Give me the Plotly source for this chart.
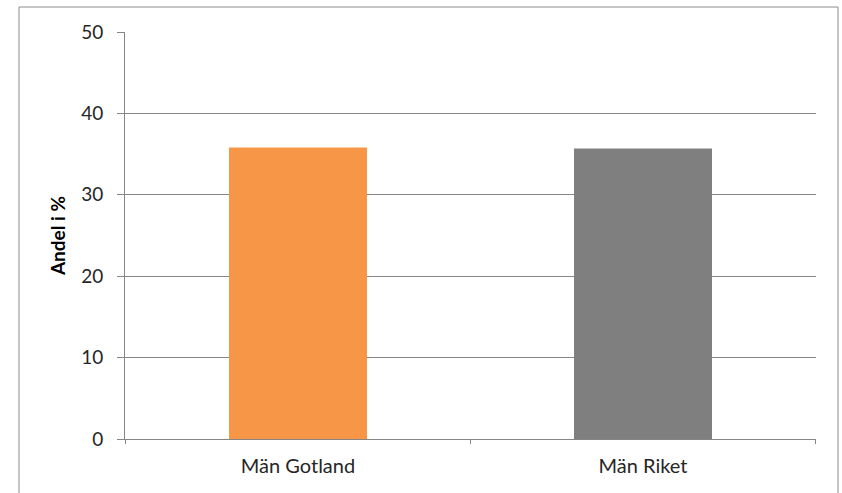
import plotly.graph_objects as go

categories = ["Män Gotland", "Män Riket"]
values = [35.8, 35.7]
colors = ["#F79646", "#7F7F7F"]
y_ticks = [0, 10, 20, 30, 40, 50]

W, H = 842, 493
ml, mr, mt, mb = 125, 26, 32, 54
pw = W - ml - mr
ph = H - mt - mb

def px_to_paper_x(px):
    return (px - ml) / pw

def px_to_paper_y(py):
    return (H - mb - py) / ph

fig = go.Figure()
fig.add_trace(go.Bar(
    x=categories, y=values,
    marker=dict(color=colors, line=dict(width=0)),
    width=0.4,
    showlegend=False,
))

font_family = "Lato, 'Open Sans', sans-serif"
fig.update_layout(
    width=W, height=H,
    margin=dict(l=ml, r=mr, t=mt, b=mb, pad=0),
    paper_bgcolor="white", plot_bgcolor="white",
    font=dict(family=font_family, size=19, color="#262626"),
    xaxis=dict(
        showline=True, linecolor="#868686", linewidth=1,
        ticks="", showgrid=False, zeroline=False,
        tickfont=dict(size=20, color="#262626"),
        ticklabelstandoff=9,
    ),
    yaxis=dict(
        range=[0, 50], tickvals=y_ticks,
        showline=True, linecolor="#868686", linewidth=1,
        ticks="outside", ticklen=7, tickcolor="#868686",
        showgrid=True, gridcolor="#868686", gridwidth=1,
        zeroline=False,
        tickfont=dict(size=19, color="#262626"),
        ticklabelstandoff=10,
        title=dict(text="<b>Andel i %</b>", font=dict(size=19, color="#000000"), standoff=10),
    ),
)

# category boundary ticks on the x axis
for bx in [-0.5, 0.5, 1.5]:
    fig.add_shape(type="line", xref="x", yref="paper",
                  x0=bx, x1=bx, y0=0, y1=px_to_paper_y(H - mb + 5),
                  line=dict(color="#868686", width=1))

# outer chart border
fig.add_shape(type="rect", xref="paper", yref="paper",
              x0=px_to_paper_x(19), x1=px_to_paper_x(838),
              y0=px_to_paper_y(520), y1=px_to_paper_y(7),
              line=dict(color="#8C8C8C", width=1), fillcolor="rgba(0,0,0,0)", layer="below")

fig.write_html("out.html")
